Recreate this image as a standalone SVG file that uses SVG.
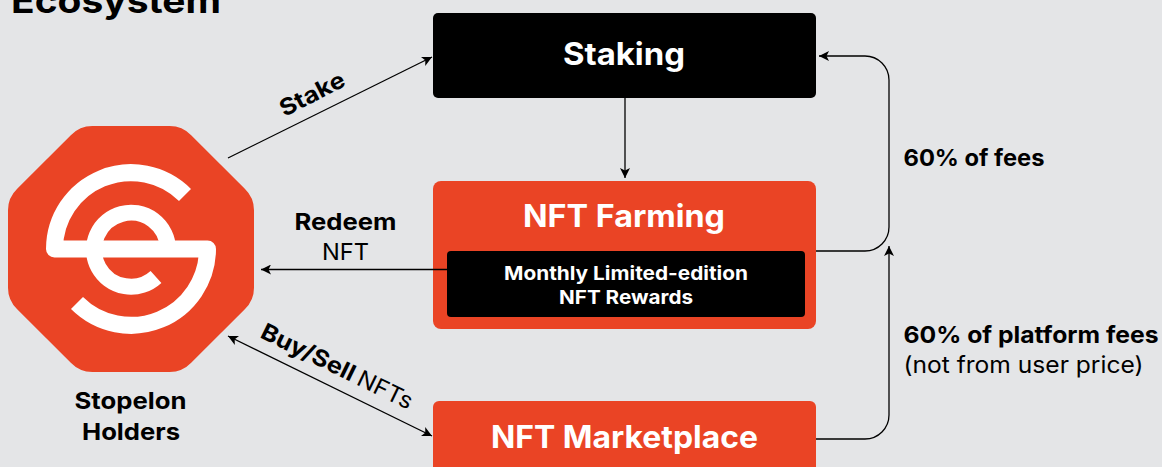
<svg xmlns="http://www.w3.org/2000/svg" width="1162" height="467" viewBox="0 0 1162 467">
<style>
text{font-family:Inter,"Open Sans","Liberation Sans",sans-serif;font-weight:700;fill:#000}
.w{fill:#fff}
.r{font-weight:400}
.l{font-size:23px}
.h{font-size:31px}
.s{font-size:19px}
.box{fill:#ea4425}
.blk{fill:#000}
.c{fill:none;stroke:#000;stroke-width:1.3}
</style>
<defs>
<marker id="a" viewBox="0 0 10 10" refX="10" refY="5" markerWidth="10" markerHeight="10" markerUnits="userSpaceOnUse" orient="auto-start-reverse"><path d="M0 0L10 5L0 10L2.5 5Z" fill="#000"/></marker>
</defs>
<rect width="1162" height="467" fill="#e4e5e7"/>
<text x="11" y="13" font-size="34" textLength="210" lengthAdjust="spacingAndGlyphs">Ecosystem</text>
<g id="holders">
<path class="box" d="M93 126H169A30 30 0 0 1 191.2 135.2L244.8 188.8A30 30 0 0 1 254 211V287A30 30 0 0 1 244.8 309.2L191.2 362.8A30 30 0 0 1 169 372H93A30 30 0 0 1 70.8 362.8L17.2 309.2A30 30 0 0 1 8 287V211A30 30 0 0 1 17.2 188.8L70.8 135.2A30 30 0 0 1 93 126Z"/>
<path d="M185 195A76.5 76.5 0 0 0 54.5 249H207.5A76.5 76.5 0 0 1 77 303" fill="none" stroke="#fff" stroke-width="17" stroke-linejoin="round"/>
<path d="M168 249A37 37 0 1 0 156 277" fill="none" stroke="#fff" stroke-width="16"/>
<text class="l" x="130.5" y="409" text-anchor="middle" textLength="112" lengthAdjust="spacingAndGlyphs">Stopelon</text>
<text class="l" x="131" y="440" text-anchor="middle" textLength="98" lengthAdjust="spacingAndGlyphs">Holders</text>
</g>
<g id="staking">
<rect class="blk" x="433" y="13" width="383" height="85" rx="5"/>
<text class="h w" x="624" y="65" text-anchor="middle" textLength="122" lengthAdjust="spacingAndGlyphs">Staking</text>
</g>
<g id="farming">
<rect class="box" x="433" y="181" width="383" height="148" rx="8"/>
<text class="h w" x="624" y="227" text-anchor="middle" textLength="202" lengthAdjust="spacingAndGlyphs">NFT Farming</text>
<rect class="blk" x="447" y="251" width="358" height="66" rx="4"/>
<text class="s w" x="626" y="280" text-anchor="middle" textLength="244" lengthAdjust="spacingAndGlyphs">Monthly Limited-edition</text>
<text class="s w" x="626" y="304" text-anchor="middle" textLength="134" lengthAdjust="spacingAndGlyphs">NFT Rewards</text>
</g>
<g id="marketplace">
<rect class="box" x="433" y="401" width="383" height="80" rx="6"/>
<text class="h w" x="624.5" y="448" text-anchor="middle" textLength="267" lengthAdjust="spacingAndGlyphs">NFT Marketplace</text>
</g>
<g id="connectors">
<path class="c" d="M228 158L432 57" marker-end="url(#a)"/>
<path class="c" d="M625 98V178" marker-end="url(#a)"/>
<path class="c" d="M447 269.5H261" marker-end="url(#a)"/>
<path class="c" d="M228 336L432 436" marker-start="url(#a)" marker-end="url(#a)"/>
<path class="c" d="M816 251H865A24 24 0 0 0 889 227V80A24 24 0 0 0 865 56H819" marker-end="url(#a)"/>
<path class="c" d="M816 439H865A24 24 0 0 0 889 415V246" marker-end="url(#a)"/>
</g>
<g id="labels">
<text class="l" transform="translate(284.5 117) rotate(-27)" textLength="70" lengthAdjust="spacingAndGlyphs">Stake</text>
<text class="l" x="294.5" y="230" textLength="102" lengthAdjust="spacingAndGlyphs">Redeem</text>
<text class="l r" x="322" y="260" textLength="47" lengthAdjust="spacingAndGlyphs">NFT</text>
<text class="l" transform="translate(259 337) rotate(26)"><tspan textLength="102" lengthAdjust="spacingAndGlyphs">Buy/Sell</tspan><tspan class="r" dx="5" textLength="59" lengthAdjust="spacingAndGlyphs">NFTs</tspan></text>
<text class="l" x="903.5" y="166" textLength="141" lengthAdjust="spacingAndGlyphs">60% of fees</text>
<text class="l" x="903.5" y="343" textLength="255" lengthAdjust="spacingAndGlyphs">60% of platform fees</text>
<text class="l r" x="903.5" y="373" textLength="240" lengthAdjust="spacingAndGlyphs">(not from user price)</text>
</g>
</svg>
